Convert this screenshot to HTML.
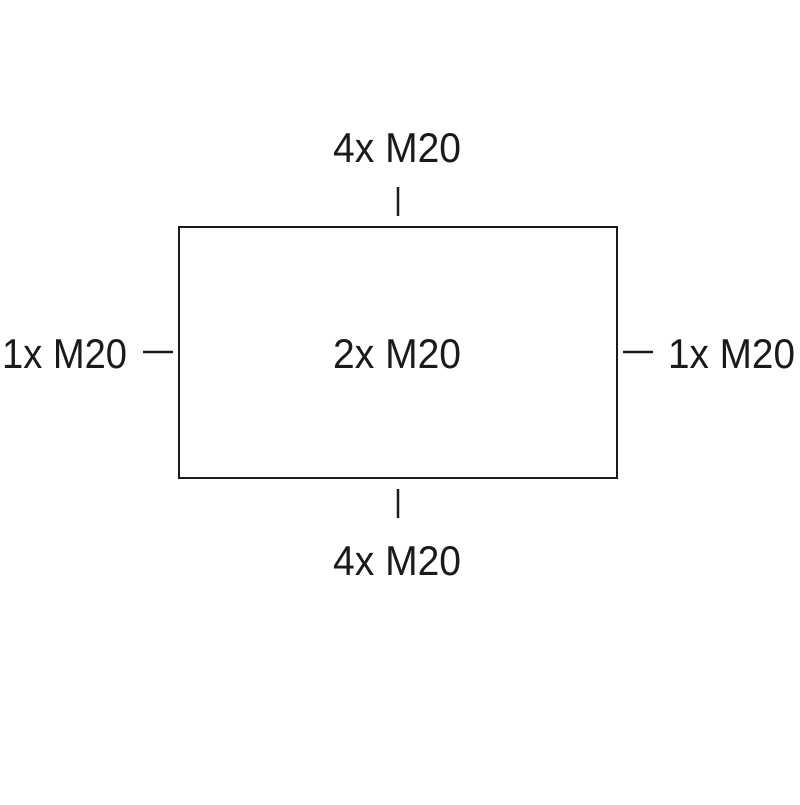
<!DOCTYPE html>
<html><head><meta charset="utf-8"><style>html,body{margin:0;padding:0;background:#fff}</style></head>
<body>
<svg width="800" height="800" viewBox="0 0 800 800" xmlns="http://www.w3.org/2000/svg">
<rect width="800" height="800" fill="#fff"/>
<rect x="179" y="227" width="438" height="251" fill="none" stroke="#1a1a1a" stroke-width="2"/>
<g stroke="#1a1a1a" stroke-width="2.5">
<line x1="398" y1="187" x2="398" y2="216"/>
<line x1="398" y1="489" x2="398" y2="518"/>
<line x1="143" y1="352" x2="173" y2="352"/>
<line x1="623" y1="352" x2="653" y2="352"/>
</g>
<g font-family="'Liberation Sans Narrow','Liberation Sans',sans-serif" font-size="42" fill="#1a1a1a">
<text x="333" y="162" textLength="128" lengthAdjust="spacingAndGlyphs">4x M20</text>
<text x="333" y="368" textLength="128" lengthAdjust="spacingAndGlyphs">2x M20</text>
<text x="2" y="368" textLength="125" lengthAdjust="spacingAndGlyphs">1x M20</text>
<text x="668" y="368" textLength="127" lengthAdjust="spacingAndGlyphs">1x M20</text>
<text x="333" y="575" textLength="128" lengthAdjust="spacingAndGlyphs">4x M20</text>
</g>
</svg>
</body></html>
